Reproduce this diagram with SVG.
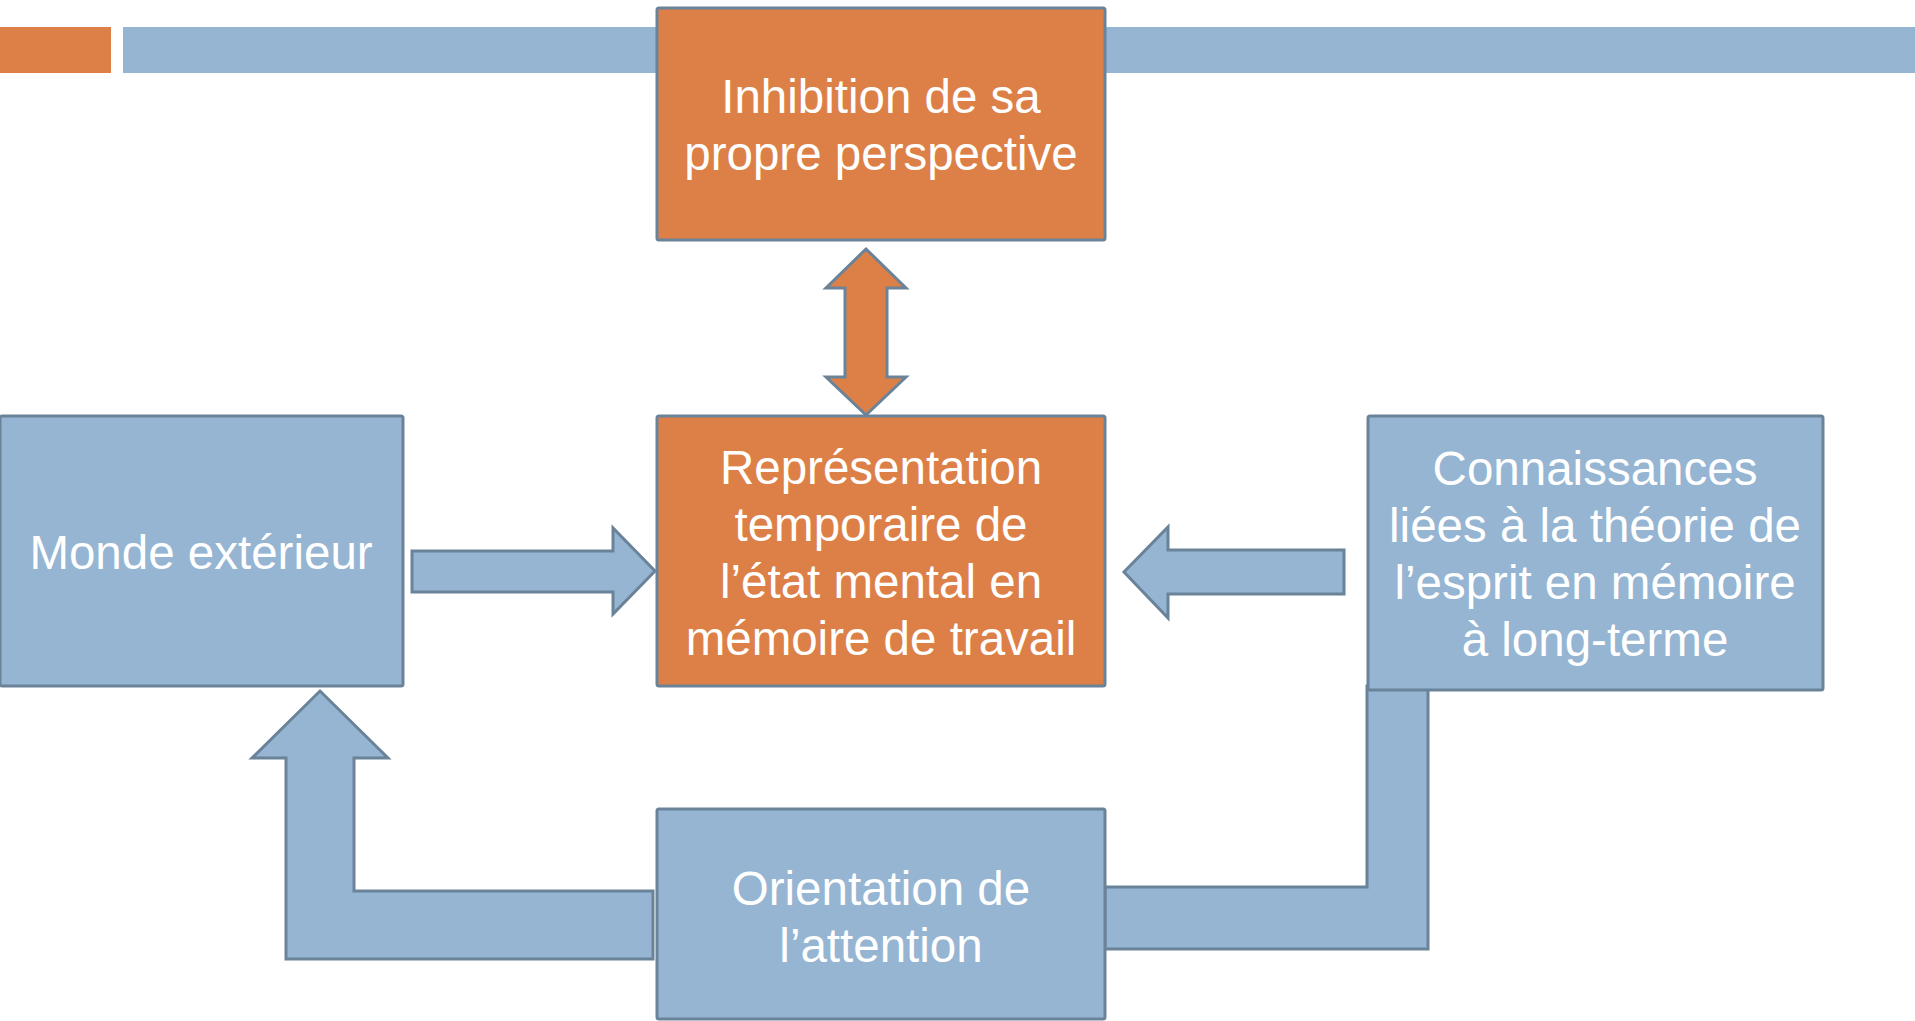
<svg xmlns="http://www.w3.org/2000/svg" width="1915" height="1021" viewBox="0 0 1915 1021">
<style>
.o{fill:#DD8047;stroke:#6A8399;stroke-width:3;stroke-linejoin:miter}
.b{fill:#95B5D2;stroke:#6A8399;stroke-width:3;stroke-linejoin:miter}
text{font-family:"Liberation Sans",Arial,sans-serif;font-size:47.5px;fill:#FFFFFF;text-anchor:middle}
</style>
<rect width="1915" height="1021" fill="#FFFFFF"/>
<g id="header">
<rect x="0" y="27" width="111" height="46" fill="#DD8047"/>
<rect x="123" y="27" width="1792" height="46" fill="#95B5D2"/>
</g>
<g id="connectors">
<polygon class="o" points="866,249 906,288 887,288 887,377 906,377 866,415 826,377 845,377 845,288 826,288"/>
<polygon class="b" points="412,551 613,551 613,528 655,571 613,614 613,592 412,592"/>
<polygon class="b" points="1344,550 1168,550 1168,527 1124,572 1168,618 1168,594 1344,594"/>
<polygon class="b" points="653,891 354,891 354,758 388,758 320,691 252,758 286,758 286,959 653,959"/>
<polygon class="b" points="1105,887 1367,887 1367,686 1428,686 1428,949 1105,949"/>
</g>
<g id="inhibition">
<rect class="o" x="657" y="8" width="448" height="232" rx="2"/>
<text x="881" y="113">Inhibition de sa</text>
<text x="881" y="170">propre perspective</text>
</g>
<g id="representation">
<rect class="o" x="657" y="416" width="448" height="270" rx="2"/>
<text x="881" y="484">Représentation</text>
<text x="881" y="541">temporaire de</text>
<text x="881" y="598">l’état mental en</text>
<text x="881" y="655">mémoire de travail</text>
</g>
<g id="monde">
<rect class="b" x="0" y="416" width="403" height="270" rx="2"/>
<text x="201" y="569">Monde extérieur</text>
</g>
<g id="connaissances">
<rect class="b" x="1368" y="416" width="455" height="274" rx="2"/>
<text x="1595" y="485">Connaissances</text>
<text x="1595" y="542">liées à la théorie de</text>
<text x="1595" y="599">l’esprit en mémoire</text>
<text x="1595" y="656">à long-terme</text>
</g>
<g id="orientation">
<rect class="b" x="657" y="809" width="448" height="210" rx="2"/>
<text x="881" y="905">Orientation de</text>
<text x="881" y="962">l’attention</text>
</g>
</svg>
